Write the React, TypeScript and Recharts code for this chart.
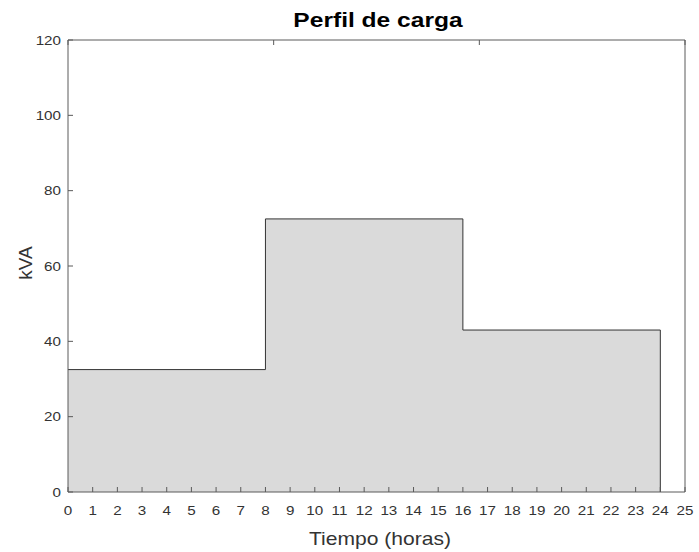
import React from 'react'
import { ComposedChart, Area, XAxis, YAxis } from 'recharts'

// ─── Data ───────────────────────────────────────────────────────────────────
const hours = [0, 8, 16, 24]
const loadKVA = [32.5, 72.5, 43]
const xTicks = [0, 1, 2, 3, 4, 5, 6, 7, 8, 9, 10, 11, 12, 13, 14, 15, 16, 17, 18, 19, 20, 21, 22, 23, 24, 25]
const yTicks = [0, 20, 40, 60, 80, 100, 120]

// step profile closes to zero at the last breakpoint
const data = hours.map((t, i) => ({ t, kva: i < loadKVA.length ? loadKVA[i] : 0 }))

const W = 699
const H = 552
const SX = 1.17 // reference text is a bit wide
const FONT = '"Liberation Sans", Arial, sans-serif'
const AXIS = '#5a5a5a'
const TXT = '#333'
const TICK = 5 // inward tick length, matlab style

// ticks point into the plot, labels sit outside
function BottomTick({ x, y, payload }: any) {
  return (
    <g>
      <line x1={x} y1={y} x2={x} y2={y - TICK} stroke={AXIS} />
      <text transform={`translate(${x},${y + 14}) scale(${SX},1)`} textAnchor="middle" dy="0.71em"
        fontSize={13} fontFamily={FONT} fill={TXT}>
        {payload.value}
      </text>
    </g>
  )
}

function TopTick({ x, y }: any) {
  return <line x1={x} y1={y} x2={x} y2={y + TICK} stroke={AXIS} />
}

function LeftTick({ x, y, payload }: any) {
  return (
    <g>
      <line x1={x} y1={y} x2={x + TICK} y2={y} stroke={AXIS} />
      <text transform={`translate(${x - 7},${y}) scale(${SX},1)`} textAnchor="end" dy="0.355em"
        fontSize={13} fontFamily={FONT} fill={TXT}>
        {payload.value}
      </text>
    </g>
  )
}

function RightTick({ x, y }: any) {
  return <line x1={x} y1={y} x2={x - TICK} y2={y} stroke={AXIS} />
}

export default function App() {
  return (
    <div style={{ position: 'absolute', left: 0, top: 0, width: W, height: H, background: '#fff' }}>
      <ComposedChart width={W} height={H} data={data} margin={{ top: 39, right: 13, bottom: 0, left: 0 }}>
        <XAxis dataKey="t" type="number" domain={[0, 25]} ticks={xTicks} interval={0}
          height={60} stroke={AXIS} tickLine={false} tickSize={0} tickMargin={0} tick={<BottomTick />} />
        <XAxis xAxisId="top" orientation="top" type="number" domain={[0, 25]} ticks={xTicks}
          interval={0} height={1} stroke={AXIS} tickLine={false} tickSize={0} tickMargin={0} tick={<TopTick />} />
        <YAxis type="number" domain={[0, 120]} ticks={yTicks} interval={0} width={68}
          stroke={AXIS} tickLine={false} tickSize={0} tickMargin={0} tick={<LeftTick />} />
        <YAxis yAxisId="right" orientation="right" type="number" domain={[0, 120]} ticks={yTicks}
          interval={0} width={1} stroke={AXIS} tickLine={false} tickSize={0} tickMargin={0} tick={<RightTick />} />
        <Area type="stepAfter" dataKey="kva" baseValue={0} fill="#dadada" fillOpacity={1}
          stroke="#333" strokeWidth={1} dot={false} activeDot={false} isAnimationActive={false} />
      </ComposedChart>
      <svg width={W} height={H} style={{ position: 'absolute', left: 0, top: 0, pointerEvents: 'none' }}>
        <text transform={`translate(378,27) scale(${SX},1)`} textAnchor="middle" fontSize={21}
          fontWeight="bold" fontFamily={FONT} fill="#000">
          Perfil de carga
        </text>
        <text transform={`translate(380,545) scale(${SX},1)`} textAnchor="middle" fontSize={18}
          fontFamily={FONT} fill={TXT}>
          Tiempo (horas)
        </text>
        <text transform="translate(32,263) rotate(-90)" textAnchor="middle" fontSize={19}
          fontFamily={FONT} fill={TXT}>
          kVA
        </text>
      </svg>
    </div>
  )
}
